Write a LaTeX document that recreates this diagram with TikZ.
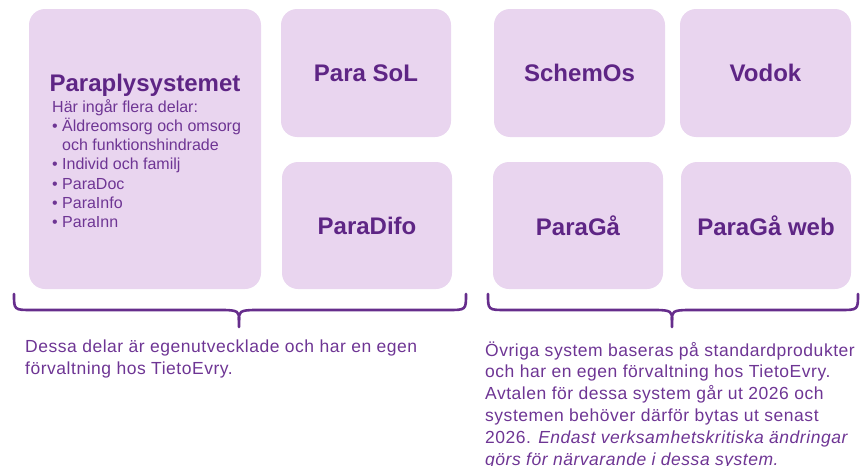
\documentclass[tikz,border=0pt]{standalone}
\usepackage{fontspec}
\setmainfont{Liberation Sans}
\newfontfamily\parafont[LetterSpace=3]{Liberation Sans}
\definecolor{boxfill}{HTML}{E9D5EF}
\definecolor{titlec}{HTML}{5E2585}
\definecolor{textc}{HTML}{6E3594}
\definecolor{bracec}{HTML}{662D8C}
\begin{document}
\begin{tikzpicture}[x=1pt,y=-1pt,
  box/.style={fill=boxfill, draw=none, rounded corners=16pt, inner sep=0pt},
  title/.style={text=titlec, font=\fontsize{24}{28}\selectfont\bfseries},
  item/.style={text=textc, font=\fontsize{16}{19}\selectfont, anchor=base west, inner sep=0pt},
  para/.style={text=textc, font=\parafont\fontsize{17.5}{21.8}\selectfont, anchor=base west, align=left, inner sep=0pt},
  brace/.style={draw=bracec, line width=2.6pt, line cap=round, line join=round}]
\useasboundingbox (0,0) rectangle (863,466);

% boxes
\path[box] (29,9) rectangle (261,289) coordinate (pbox);
\node[box, minimum width=170pt, minimum height=128pt, title] (sol) at (366,73) {Para SoL};
\node[box, minimum width=170pt, minimum height=127pt, title] (difo) at (367,225.5) {ParaDifo};
\node[box, minimum width=171pt, minimum height=128pt, title] (schem) at (579.5,73) {SchemOs};
\node[box, minimum width=171pt, minimum height=128pt, title] (vodok) at (765.5,73) {Vodok};
\node[box, minimum width=170pt, minimum height=127pt, title] (gaa) at (578,225.5) {ParaGå};
\node[box, minimum width=170pt, minimum height=127pt, title] (gaaweb) at (766,225.5) {ParaGå web};

% Paraplysystemet content
\node[title, anchor=base, inner sep=0pt] (ptitle) at (145,91) {Paraplysystemet};
\node[item] (h) at (52,112) {Här ingår flera delar:};
\node[item] (b1) at (52,131) {•};
\node[item] (i1) at (62,131) {Äldreomsorg och omsorg};
\node[item] (i1b) at (62,150) {och funktionshindrade};
\node[item] (b2) at (52,169) {•};
\node[item] (i2) at (62,169) {Individ och familj};
\node[item] (b3) at (52,189) {•};
\node[item] (i3) at (62,189) {ParaDoc};
\node[item] (b4) at (52,208) {•};
\node[item] (i4) at (62,208) {ParaInfo};
\node[item] (b5) at (52,227) {•};
\node[item] (i5) at (62,227) {ParaInn};

% braces
\coordinate (lb1) at (14,294);
\coordinate (lb2) at (466,294);
\coordinate (lbt) at (239,327);
\draw[brace] (lb1) .. controls (14,310) and (14,310) .. (32,310)
  -- (222,310) .. controls (239,310) and (239,312) .. (239,320) -- (lbt);
\draw[brace] (lb2) .. controls (466,310) and (466,310) .. (448,310)
  -- (256,310) .. controls (239,310) and (239,312) .. (239,320);

\coordinate (rb1) at (488,294);
\coordinate (rb2) at (858,294);
\coordinate (rbt) at (672,327);
\draw[brace] (rb1) .. controls (488,310) and (488,310) .. (506,310)
  -- (655,310) .. controls (672,310) and (672,312) .. (672,320) -- (rbt);
\draw[brace] (rb2) .. controls (858,310) and (858,310) .. (840,310)
  -- (689,310) .. controls (672,310) and (672,312) .. (672,320);

% texts (base anchor = last line's baseline)
\node[para] (ltext) at (25,374) {Dessa delar är egenutvecklade och har en egen\\förvaltning hos TietoEvry.};
\node[para] (rtext) at (485,465) {Övriga system baseras på standardprodukter\\och har en egen förvaltning hos TietoEvry.\\Avtalen för dessa system går ut 2026 och\\systemen behöver därför bytas ut senast\\2026. \textit{Endast verksamhetskritiska ändringar}\\\textit{görs för närvarande i dessa system.}};
\end{tikzpicture}
\end{document}
